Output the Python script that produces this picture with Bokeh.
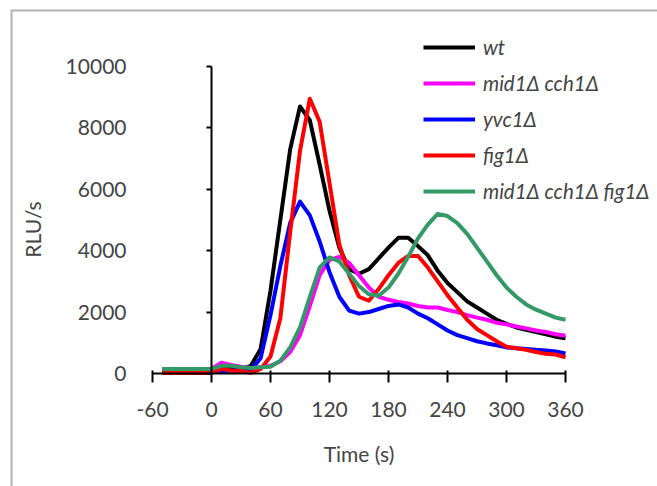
from bokeh.plotting import figure
from bokeh.models import Range1d, LinearAxis, FixedTicker, Legend, LegendItem, BoxAnnotation
from bokeh.embed import file_html
from bokeh.resources import INLINE

time_s = [-50, -40, -30, -20, -10, 0, 10, 20, 30, 40, 50, 60, 70, 80, 90, 100, 110, 120,
          130, 140, 150, 160, 170, 180, 190, 200, 210, 220, 230, 240, 250, 260, 270, 280,
          290, 300, 310, 320, 330, 340, 350, 360]

wt = [100, 100, 100, 100, 100, 100, 200, 180, 150, 250, 800, 2700, 5000, 7300, 8700, 8250,
      6800, 5300, 4100, 3400, 3250, 3400, 3750, 4100, 4420, 4420, 4150, 3850, 3350, 2950,
      2650, 2350, 2150, 1950, 1750, 1620, 1500, 1420, 1350, 1280, 1200, 1150]

mid1_cch1 = [150, 150, 150, 150, 150, 150, 350, 280, 220, 180, 200, 250, 400, 700, 1250, 2200,
             3200, 3700, 3800, 3600, 3200, 2800, 2500, 2400, 2330, 2280, 2200, 2150, 2150, 2070,
             2000, 1900, 1820, 1750, 1650, 1600, 1530, 1470, 1400, 1350, 1280, 1230]

yvc1 = [50, 50, 50, 50, 50, 50, 80, 100, 100, 120, 500, 1900, 3500, 4900, 5600, 5150,
        4300, 3300, 2500, 2050, 1950, 2000, 2100, 2200, 2250, 2150, 1950, 1800, 1600, 1400,
        1250, 1150, 1050, 980, 920, 850, 820, 800, 770, 750, 720, 650]

fig1 = [20, 20, 20, 20, 20, 20, 150, 100, 80, 20, 150, 550, 1800, 4600, 7250, 8950,
        8200, 6200, 4200, 3200, 2500, 2370, 2750, 3200, 3600, 3830, 3830, 3450, 3000, 2550,
        2150, 1750, 1450, 1250, 1050, 870, 820, 770, 700, 640, 620, 530]

mid1_cch1_fig1 = [150, 150, 150, 150, 150, 150, 250, 250, 200, 180, 200, 220, 420, 850, 1500, 2500,
                  3450, 3780, 3650, 3250, 2850, 2580, 2530, 2800, 3250, 3800, 4400, 4850, 5200, 5130,
                  4900, 4550, 4100, 3650, 3200, 2800, 2500, 2250, 2080, 1950, 1820, 1750]

series_names = ["wt", "mid1\u0394 cch1\u0394", "yvc1\u0394", "fig1\u0394", "mid1\u0394 cch1\u0394 fig1\u0394"]
series_values = [wt, mid1_cch1, yvc1, fig1, mid1_cch1_fig1]
series_colors = ["#000000", "#FF00FF", "#0000FF", "#FF0000", "#339966"]

x_ticks = [-60, 0, 60, 120, 180, 240, 300, 360]
x_tick_labels = ["-60", "0", "60", "120", "180", "240", "300", "360"]
y_ticks = [0, 2000, 4000, 6000, 8000, 10000]

FONT = "Lato"

# frame covers the whole canvas; axes are drawn at fixed locations inside it
p = figure(width=657, height=486, output_backend="svg", toolbar_location=None,
           x_range=Range1d(-214.58, 453.56), y_range=Range1d(-3680.8, 12149.8),
           x_axis_type=None, y_axis_type=None,
           min_border=0, min_border_left=0, min_border_right=0,
           min_border_top=0, min_border_bottom=0)
p.outline_line_color = None
p.xgrid.visible = False
p.ygrid.visible = False
p.background_fill_color = "white"
p.border_fill_color = "white"

# x axis crossing at value 0
xa = LinearAxis(ticker=FixedTicker(ticks=x_ticks), axis_label="Time (s)",
                fixed_location=0, bounds=(-60, 360))
xa.major_label_overrides = {t: s for t, s in zip(x_ticks, x_tick_labels)}
xa.axis_line_color = "black"
xa.axis_line_width = 2
xa.major_tick_line_color = "black"
xa.major_tick_line_width = 2
xa.major_tick_in = 3
xa.major_tick_out = 9
xa.minor_tick_line_color = None
xa.major_label_text_font = FONT
xa.major_label_text_font_size = "21px"
xa.major_label_standoff = 20
xa.axis_label_text_font = FONT
xa.axis_label_text_font_size = "21px"
xa.axis_label_text_font_style = "normal"
xa.axis_label_standoff = 20
p.add_layout(xa, "below")

# y tick labels at the left end of the x axis
yl = LinearAxis(ticker=FixedTicker(ticks=y_ticks), axis_label="RLU/s", fixed_location=-60,
                bounds=(-620, 10000))
yl.axis_line_color = None
yl.major_tick_line_color = None
yl.minor_tick_line_color = None
yl.major_label_text_font = FONT
yl.major_label_text_font_size = "21px"
yl.major_label_standoff = 20
yl.axis_label_text_font = FONT
yl.axis_label_text_font_size = "21px"
yl.axis_label_text_font_style = "normal"
yl.axis_label_standoff = 18
p.add_layout(yl, "left")

# y axis line crossing at time 0
ya = LinearAxis(ticker=FixedTicker(ticks=y_ticks), fixed_location=0, bounds=(0, 10000))
ya.axis_line_color = "black"
ya.axis_line_width = 2
ya.major_tick_line_color = "black"
ya.major_tick_line_width = 2
ya.major_tick_in = 0
ya.major_tick_out = 5
ya.minor_tick_line_color = None
ya.major_label_text_color = None
ya.major_label_text_font_size = "0px"
p.add_layout(ya, "left")

items = []
for name, vals, col in zip(series_names, series_values, series_colors):
    r = p.line(time_s, vals, line_color=col, line_width=4, line_join="round")
    items.append(LegendItem(label=name, renderers=[r]))

legend = Legend(items=items, location=(423, 283))
legend.label_text_font = FONT
legend.label_text_font_style = "italic"
legend.label_text_font_size = "20.5px"
legend.glyph_width = 52
legend.glyph_height = 20
legend.label_height = 20
legend.spacing = 12
legend.padding = 0
legend.margin = 0
legend.label_standoff = 8
legend.border_line_color = None
legend.background_fill_alpha = 0
p.add_layout(legend, "center")

# outer chart border (only its left and top edges fall inside the picture)
border = BoxAnnotation(left=11, right=760, top=476, bottom=-100,
                       left_units="screen", right_units="screen",
                       top_units="screen", bottom_units="screen",
                       fill_color=None, line_color="black", line_width=2, level="overlay")
p.add_layout(border)

open("out.html", "w").write(file_html(p, INLINE))
